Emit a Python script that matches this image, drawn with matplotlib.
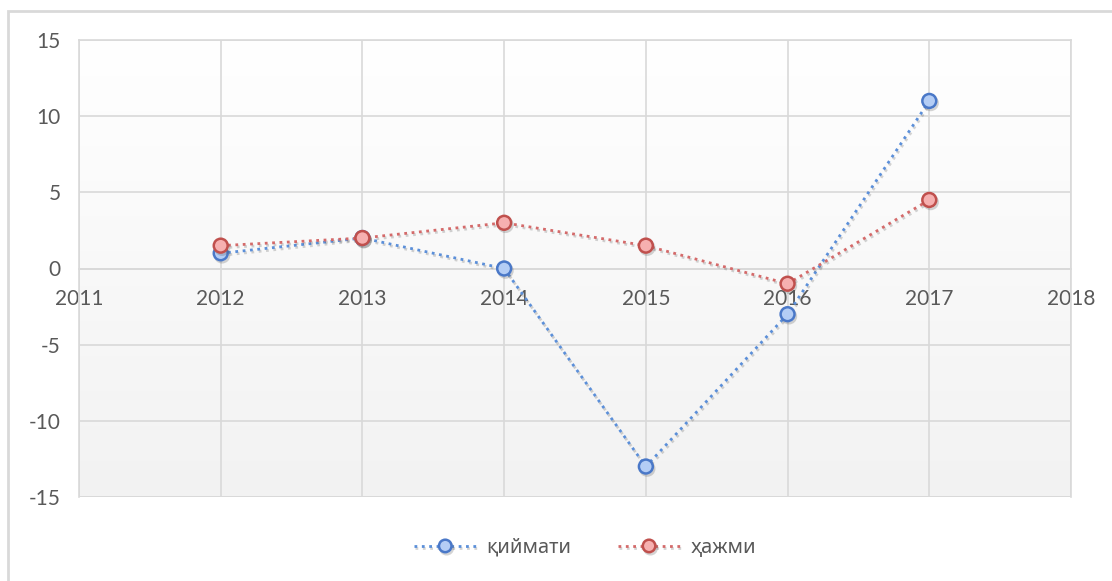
import matplotlib
matplotlib.use("Agg")
import matplotlib.pyplot as plt
import numpy as np
from matplotlib.patches import Rectangle
from matplotlib.colors import LinearSegmentedColormap
from matplotlib.font_manager import FontProperties
import matplotlib.patheffects as pe

years = [2012, 2013, 2014, 2015, 2016, 2017]
qiymati = [1, 2, 0, -13, -3, 11]
hajmi = [1.5, 2, 3, 1.5, -1, 4.5]
series_names = ["қиймати", "ҳажми"]
x_ticks = [2011, 2012, 2013, 2014, 2015, 2016, 2017, 2018]
y_ticks = [-15, -10, -5, 0, 5, 10, 15]

plt.rcParams['font.family'] = ['Lato', 'Noto Sans', 'DejaVu Sans']
plt.rcParams['axes.unicode_minus'] = False
text_color = "#595959"
grid_color = "#d9d9d9"

fig = plt.figure(figsize=(11.12, 5.81), dpi=100)
fig.patch.set_facecolor("white")

# outer chart frame (left and top edges visible)
fig.add_artist(Rectangle((8/1112, -0.1), 1.2, 1 - 11/581 + 0.1,
                         transform=fig.transFigure, facecolor="none",
                         edgecolor="#d9d9d9", linewidth=2, zorder=0))

ax = fig.add_axes([79/1112, 1 - 497/581, (1071-79)/1112, (497-40)/581])
ax.set_xlim(2011, 2018)
ax.set_ylim(-15, 15)

# gradient background
grad = np.linspace(0, 1, 256).reshape(-1, 1)
cmap = LinearSegmentedColormap.from_list("g", ["#f2f2f2", "#ffffff"])
ax.imshow(grad, extent=[2011, 2018, -15, 15], origin="lower", aspect="auto",
          cmap=cmap, zorder=0)

ax.set_xticks(x_ticks)
ax.set_yticks(y_ticks)
ax.grid(True, color=grid_color, linewidth=1.2, zorder=1)
for s in ax.spines.values():
    s.set_color(grid_color)
    s.set_linewidth(1.2)
ax.axhline(-15, color=grid_color, linewidth=1.2, zorder=1)
ax.tick_params(axis='both', length=0, labelsize=15, labelcolor=text_color)
ax.tick_params(axis='x', pad=15)
ax.tick_params(axis='y', pad=13)
ax.spines['bottom'].set_position(('data', 0))

shadow = [pe.SimpleLineShadow(offset=(1, -1.5), alpha=0.25, shadow_color="#555555"), pe.Normal()]

ax.plot(years, qiymati, linestyle=":", color="#5b8fd9", linewidth=2,
        marker="o", markersize=10, markerfacecolor="#b4cdf5",
        markeredgecolor="#4a78c8", markeredgewidth=1.8, label=series_names[0],
        zorder=3, path_effects=shadow)
ax.plot(years, hajmi, linestyle=":", color="#d46a6a", linewidth=2,
        marker="o", markersize=10, markerfacecolor="#f6b0b0",
        markeredgecolor="#c0504d", markeredgewidth=1.8, label=series_names[1],
        zorder=4, path_effects=shadow)

leg = fig.legend(loc="center", bbox_to_anchor=(585/1112, 1 - 548/581), ncol=2,
                 frameon=False, prop=FontProperties(family="Noto Sans", size=14.5),
                 labelcolor=text_color, markerscale=0.9,
                 handlelength=3.1, columnspacing=2.3, handletextpad=0.5)

fig.savefig("out.png", dpi=100, facecolor="white")
